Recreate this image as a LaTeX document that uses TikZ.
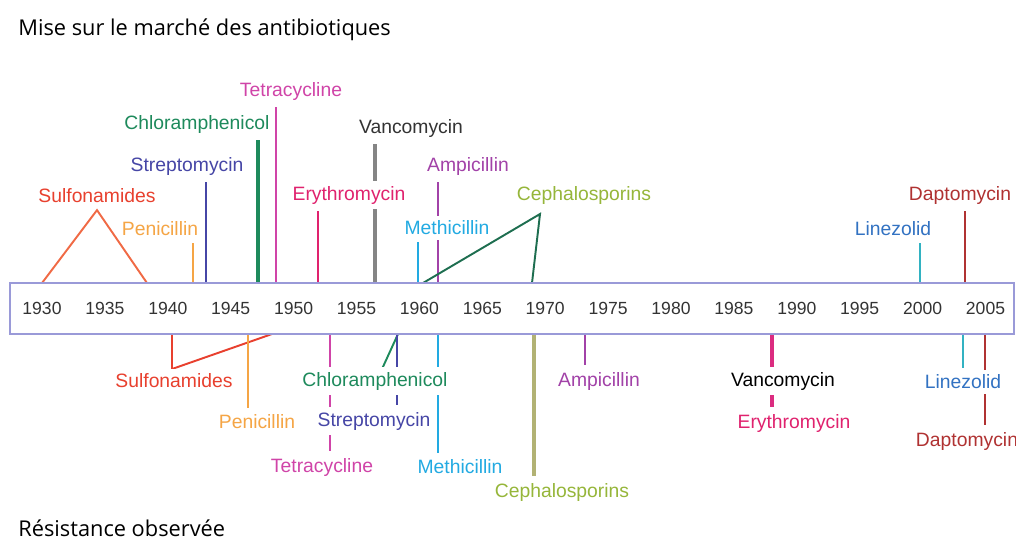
\documentclass[tikz,border=0pt]{standalone}
\usepackage{fontspec}
\setmainfont{Liberation Sans}
\newfontfamily\titlefont{Open Sans}
\definecolor{boxcol}{HTML}{9A9AD8}
\definecolor{yearcol}{HTML}{333333}
\definecolor{sulcol}{HTML}{E8402E}
\definecolor{sulline}{HTML}{F06A45}
\definecolor{pencol}{HTML}{F5A545}
\definecolor{strcol}{HTML}{4646A6}
\definecolor{chlcol}{HTML}{1E8A5C}
\definecolor{tetcol}{HTML}{D044A8}
\definecolor{erycol}{HTML}{E0226E}
\definecolor{vancol}{HTML}{333333}
\definecolor{vanline}{HTML}{858585}
\definecolor{ampcol}{HTML}{A242A8}
\definecolor{metcol}{HTML}{22AAE2}
\definecolor{cepcol}{HTML}{96B63A}
\definecolor{cepline}{HTML}{1E6E50}
\definecolor{cepolive}{HTML}{B2B274}
\definecolor{lincol}{HTML}{3272C2}
\definecolor{linline}{HTML}{32B2C2}
\definecolor{dapcol}{HTML}{B03232}
\pgfdeclarelayer{bg}
\pgfsetlayers{bg,main}
\begin{document}
\begin{tikzpicture}[x=0.02cm, y=-0.02cm,
	lab/.style={fill=white, inner xsep=1pt, inner ysep=3pt, outer sep=1pt, font=\fontsize{11}{13}\selectfont},
	yr/.style={text=yearcol, font=\fontsize{10}{12}\selectfont},
	title/.style={anchor=west, inner sep=0pt, font=\titlefont\fontsize{12.4}{14}\selectfont},
	link/.style={line width=1.1pt},
	fat/.style={line width=2pt}]
	\useasboundingbox (0,0) rectangle (1016,542);
	\node (mise) at (18,30) [title] {Mise sur le marché des antibiotiques};
	\node (resi) at (18,528) [title] {Résistance observée};
	% axe des annees
	\node (axis) at (512,308.5) [draw=boxcol, line width=1pt, fill=white, minimum width=20.08cm, minimum height=1.02cm, inner sep=0pt] {};
	\foreach \yr [count=\i from 0] in {1930,1935,...,2005}
		\node (y\yr) at (42+62.9*\i, 308) [yr] {\yr};
	% mise sur le marche
	\node (tetT) at (291,91) [lab, text=tetcol] {Tetracycline};
	\node (chlT) at (197,124) [lab, text=chlcol] {Chloramphenicol};
	\node (vanT) at (411,128) [lab, text=vancol] {Vancomycin};
	\node (strT) at (187,166) [lab, text=strcol] {Streptomycin};
	\node (ampT) at (468,166) [lab, text=ampcol] {Ampicillin};
	\node (sulT) at (97,196) [lab, text=sulcol] {Sulfonamides};
	\node (eryT) at (349,195) [lab, text=erycol] {Erythromycin};
	\node (cepT) at (584,195) [lab, text=cepcol] {Cephalosporins};
	\node (dapT) at (960,195) [lab, text=dapcol] {Daptomycin};
	\node (penT) at (160,229) [lab, text=pencol] {Penicillin};
	\node (metT) at (447,228) [lab, text=metcol] {Methicillin};
	\node (linT) at (893,229) [lab, text=lincol] {Linezolid};
	% resistance observee
	\node (sulR) at (174,381) [lab, text=sulcol] {Sulfonamides};
	\node (chlR) at (375,381) [lab, text=chlcol] {Chloramphenicol};
	\node (ampR) at (599,381) [lab, text=ampcol] {Ampicillin};
	\node (vanR) at (783,381) [lab, text=black] {Vancomycin};
	\node (linR) at (963,382) [lab, text=lincol] {Linezolid};
	\node (penR) at (257,422) [lab, text=pencol] {Penicillin};
	\node (strR) at (374,421) [lab, text=strcol] {Streptomycin};
	\node (eryR) at (794,423) [lab, text=erycol] {Erythromycin};
	\node (dapR) at (967,441) [lab, text=dapcol] {Daptomycin};
	\node (tetR) at (322,467) [lab, text=tetcol] {Tetracycline};
	\node (metR) at (460,467) [lab, text=metcol] {Methicillin};
	\node (cepR) at (562,492) [lab, text=cepcol] {Cephalosporins};
	% points sur l'axe
	\coordinate (sulT1) at (42,283);
	\coordinate (sulT2) at (147,283);
	\coordinate (penT0) at (193,283);
	\coordinate (strT0) at (206,283);
	\coordinate (chlT0) at (258,283);
	\coordinate (tetT0) at (276,283);
	\coordinate (eryT0) at (318,283);
	\coordinate (vanT0) at (375,283);
	\coordinate (metT0) at (418,283);
	\coordinate (ampT0) at (438,283);
	\coordinate (cepT1) at (423,283);
	\coordinate (cepT2) at (532,283);
	\coordinate (cepTop) at (540,214);
	\coordinate (linT0) at (920,283);
	\coordinate (dapT0) at (965,283);
	\coordinate (sulR1) at (172,334);
	\coordinate (sulR2) at (272,334);
	\coordinate (sulDip) at (172,369);
	\coordinate (chlR0) at (398,334);
	\coordinate (chlDip) at (382,369);
	\coordinate (penR0) at (248,334);
	\coordinate (strR0) at (397,334);
	\coordinate (tetR0) at (330,334);
	\coordinate (metR0) at (438,334);
	\coordinate (cepR0) at (534,334);
	\coordinate (ampR0) at (585,334);
	\coordinate (eryR0) at (772,334);
	\coordinate (linR0) at (963,334);
	\coordinate (dapR0) at (985,334);
	\begin{pgfonlayer}{bg}
		\draw[link, sulline] (sulT1) -- (sulT.south) -- (sulT2);
		\draw[link, pencol] (penT0) -- (penT0 |- penT.south);
		\draw[link, strcol] (strT0) -- (strT0 |- strT.south);
		\draw[fat, chlcol] (chlT0) -- (chlT0 |- chlT.south);
		\draw[link, tetcol] (tetT0) -- (tetT0 |- tetT.south);
		\draw[link, erycol] (eryT0) -- (eryT0 |- eryT.south);
		\draw[fat, vanline] (vanT0) -- (vanT0 |- vanT.south);
		\draw[link, metcol] (metT0) -- (metT0 |- metT.south);
		\draw[link, ampcol] (ampT0) -- (ampT0 |- ampT.south);
		\draw[link, cepline] (cepT1) -- (cepTop) -- (cepT2);
		\draw[link, linline] (linT0) -- (linT0 |- linT.south);
		\draw[link, dapcol] (dapT0) -- (dapT0 |- dapT.south);
		\draw[link, sulcol] (sulR1) -- (sulDip) -- (sulR2);
		\draw[link, chlcol] (chlR0) -- (chlDip);
		\draw[link, pencol] (penR0) -- (penR0 |- penR.north);
		\draw[link, strcol] (strR0) -- (strR0 |- strR.north);
		\draw[link, tetcol] (tetR0) -- (tetR0 |- tetR.north);
		\draw[link, metcol] (metR0) -- (metR0 |- metR.north);
		\draw[fat, cepolive] (cepR0) -- (cepR0 |- cepR.north);
		\draw[link, ampcol] (ampR0) -- (ampR0 |- ampR.north);
		\draw[fat, erycol!70!tetcol] (eryR0) -- (eryR0 |- eryR.north);
		\draw[link, linline] (linR0) -- (linR0 |- linR.north);
		\draw[link, dapcol] (dapR0) -- (dapR0 |- dapR.north);
	\end{pgfonlayer}
\end{tikzpicture}
\end{document}
